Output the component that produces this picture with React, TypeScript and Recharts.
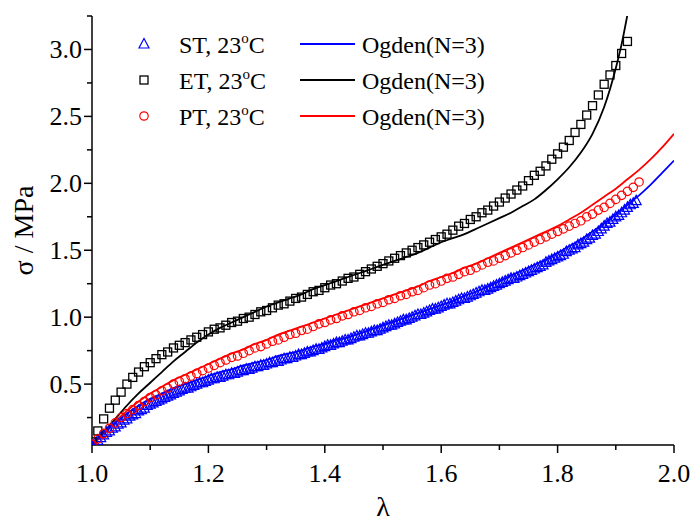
import React from 'react';
import { ComposedChart, Line, Scatter, XAxis, YAxis, Legend } from 'recharts';

const FONT = "'Liberation Serif', 'Times New Roman', serif";

const xTicks = [1.0, 1.1, 1.2, 1.3, 1.4, 1.5, 1.6, 1.7, 1.8, 1.9, 2.0];
const yTicks = [0.25, 0.5, 0.75, 1.0, 1.25, 1.5, 1.75, 2.0, 2.25, 2.5, 2.75, 3.0, 3.25];

// measured points [lambda, sigma]
const stPoints: [number, number][] = [
  [1.000, 0.04], [1.005, 0.06], [1.010, 0.08], [1.015, 0.10], [1.020, 0.12], [1.025, 0.14], [1.030, 0.15], [1.035, 0.17],
  [1.040, 0.18], [1.045, 0.20], [1.050, 0.21], [1.055, 0.23], [1.060, 0.24], [1.065, 0.26], [1.070, 0.27], [1.075, 0.28],
  [1.080, 0.30], [1.085, 0.31], [1.090, 0.32], [1.095, 0.34], [1.100, 0.35], [1.105, 0.36], [1.110, 0.37], [1.115, 0.38],
  [1.120, 0.39], [1.125, 0.40], [1.130, 0.41], [1.135, 0.42], [1.140, 0.43], [1.145, 0.44], [1.150, 0.45], [1.155, 0.46],
  [1.160, 0.47], [1.165, 0.47], [1.170, 0.48], [1.175, 0.49], [1.180, 0.50], [1.185, 0.51], [1.190, 0.51], [1.195, 0.52],
  [1.200, 0.53], [1.205, 0.54], [1.210, 0.54], [1.215, 0.55], [1.220, 0.55], [1.225, 0.56], [1.230, 0.57], [1.235, 0.57],
  [1.240, 0.58], [1.245, 0.58], [1.250, 0.59], [1.255, 0.60], [1.260, 0.60], [1.265, 0.61], [1.270, 0.61], [1.275, 0.62],
  [1.280, 0.63], [1.285, 0.63], [1.290, 0.64], [1.295, 0.64], [1.300, 0.65], [1.305, 0.66], [1.310, 0.66], [1.315, 0.67],
  [1.320, 0.67], [1.325, 0.68], [1.330, 0.69], [1.335, 0.69], [1.340, 0.70], [1.345, 0.70], [1.350, 0.71], [1.355, 0.72],
  [1.360, 0.72], [1.365, 0.73], [1.370, 0.74], [1.375, 0.74], [1.380, 0.75], [1.385, 0.76], [1.390, 0.76], [1.395, 0.77],
  [1.400, 0.78], [1.405, 0.79], [1.410, 0.79], [1.415, 0.80], [1.420, 0.81], [1.425, 0.81], [1.430, 0.82], [1.435, 0.83],
  [1.440, 0.83], [1.445, 0.84], [1.450, 0.85], [1.455, 0.86], [1.460, 0.86], [1.465, 0.87], [1.470, 0.88], [1.475, 0.88],
  [1.480, 0.89], [1.485, 0.90], [1.490, 0.90], [1.495, 0.91], [1.500, 0.92], [1.505, 0.93], [1.510, 0.94], [1.515, 0.94],
  [1.520, 0.95], [1.525, 0.96], [1.530, 0.97], [1.535, 0.98], [1.540, 0.98], [1.545, 0.99], [1.550, 1.00], [1.555, 1.01],
  [1.560, 1.02], [1.565, 1.02], [1.570, 1.03], [1.575, 1.04], [1.580, 1.05], [1.585, 1.06], [1.590, 1.06], [1.595, 1.07],
  [1.600, 1.08], [1.605, 1.09], [1.610, 1.10], [1.615, 1.10], [1.620, 1.11], [1.625, 1.12], [1.630, 1.13], [1.635, 1.14],
  [1.640, 1.14], [1.645, 1.15], [1.650, 1.16], [1.655, 1.17], [1.660, 1.18], [1.665, 1.19], [1.670, 1.20], [1.675, 1.20],
  [1.680, 1.21], [1.685, 1.22], [1.690, 1.23], [1.695, 1.24], [1.700, 1.25], [1.705, 1.26], [1.710, 1.27], [1.715, 1.28],
  [1.720, 1.29], [1.725, 1.29], [1.730, 1.30], [1.735, 1.31], [1.740, 1.32], [1.745, 1.33], [1.750, 1.34], [1.755, 1.35],
  [1.760, 1.36], [1.765, 1.37], [1.770, 1.38], [1.775, 1.39], [1.780, 1.41], [1.785, 1.42], [1.790, 1.43], [1.795, 1.44],
  [1.800, 1.45], [1.805, 1.46], [1.810, 1.47], [1.815, 1.49], [1.820, 1.50], [1.825, 1.51], [1.830, 1.52], [1.835, 1.54],
  [1.840, 1.55], [1.845, 1.56], [1.850, 1.58], [1.855, 1.59], [1.860, 1.61], [1.865, 1.62], [1.870, 1.64], [1.875, 1.66],
  [1.880, 1.68], [1.885, 1.70], [1.890, 1.71], [1.895, 1.73], [1.900, 1.75], [1.905, 1.76], [1.910, 1.78], [1.915, 1.80],
  [1.920, 1.82], [1.925, 1.84], [1.930, 1.85], [1.935, 1.87],
];

const etPoints: [number, number][] = [
  [1.00, 0.07], [1.01, 0.15], [1.02, 0.24], [1.03, 0.32], [1.04, 0.38], [1.05, 0.44], [1.06, 0.50], [1.07, 0.55],
  [1.08, 0.59], [1.09, 0.63], [1.10, 0.66], [1.11, 0.69], [1.12, 0.72], [1.13, 0.74], [1.14, 0.77], [1.15, 0.79],
  [1.16, 0.81], [1.17, 0.83], [1.18, 0.85], [1.19, 0.87], [1.20, 0.89], [1.21, 0.91], [1.22, 0.92], [1.23, 0.94],
  [1.24, 0.96], [1.25, 0.97], [1.26, 0.99], [1.27, 1.00], [1.28, 1.02], [1.29, 1.04], [1.30, 1.05], [1.31, 1.07],
  [1.32, 1.09], [1.33, 1.10], [1.34, 1.12], [1.35, 1.14], [1.36, 1.15], [1.37, 1.17], [1.38, 1.19], [1.39, 1.20],
  [1.40, 1.22], [1.41, 1.24], [1.42, 1.25], [1.43, 1.27], [1.44, 1.29], [1.45, 1.30], [1.46, 1.32], [1.47, 1.34],
  [1.48, 1.36], [1.49, 1.38], [1.50, 1.40], [1.51, 1.42], [1.52, 1.44], [1.53, 1.46], [1.54, 1.48], [1.55, 1.50],
  [1.56, 1.52], [1.57, 1.54], [1.58, 1.56], [1.59, 1.58], [1.60, 1.60], [1.61, 1.62], [1.62, 1.65], [1.63, 1.68],
  [1.64, 1.70], [1.65, 1.73], [1.66, 1.75], [1.67, 1.78], [1.68, 1.80], [1.69, 1.83], [1.70, 1.86], [1.71, 1.89],
  [1.72, 1.92], [1.73, 1.95], [1.74, 1.98], [1.75, 2.02], [1.76, 2.06], [1.77, 2.09], [1.78, 2.13], [1.79, 2.18],
  [1.80, 2.22], [1.81, 2.27], [1.82, 2.32], [1.83, 2.38], [1.84, 2.44], [1.85, 2.51], [1.86, 2.58], [1.87, 2.66],
  [1.88, 2.74], [1.89, 2.81], [1.90, 2.88], [1.91, 2.97], [1.92, 3.06],
];

const ptPoints: [number, number][] = [
  [1.00, 0.05], [1.01, 0.09], [1.02, 0.13], [1.03, 0.17], [1.04, 0.21], [1.05, 0.25], [1.06, 0.28], [1.07, 0.31],
  [1.08, 0.34], [1.09, 0.37], [1.10, 0.40], [1.11, 0.42], [1.12, 0.45], [1.13, 0.47], [1.14, 0.50], [1.15, 0.52],
  [1.16, 0.54], [1.17, 0.56], [1.18, 0.58], [1.19, 0.60], [1.20, 0.62], [1.21, 0.64], [1.22, 0.66], [1.23, 0.68],
  [1.24, 0.70], [1.25, 0.71], [1.26, 0.73], [1.27, 0.75], [1.28, 0.77], [1.29, 0.78], [1.30, 0.80], [1.31, 0.82],
  [1.32, 0.83], [1.33, 0.85], [1.34, 0.87], [1.35, 0.88], [1.36, 0.90], [1.37, 0.91], [1.38, 0.93], [1.39, 0.95],
  [1.40, 0.96], [1.41, 0.98], [1.42, 0.99], [1.43, 1.01], [1.44, 1.02], [1.45, 1.04], [1.46, 1.05], [1.47, 1.07],
  [1.48, 1.08], [1.49, 1.10], [1.50, 1.11], [1.51, 1.13], [1.52, 1.14], [1.53, 1.16], [1.54, 1.17], [1.55, 1.19],
  [1.56, 1.20], [1.57, 1.22], [1.58, 1.24], [1.59, 1.25], [1.60, 1.27], [1.61, 1.29], [1.62, 1.30], [1.63, 1.32],
  [1.64, 1.34], [1.65, 1.35], [1.66, 1.37], [1.67, 1.39], [1.68, 1.41], [1.69, 1.42], [1.70, 1.44], [1.71, 1.46],
  [1.72, 1.48], [1.73, 1.50], [1.74, 1.52], [1.75, 1.54], [1.76, 1.56], [1.77, 1.58], [1.78, 1.60], [1.79, 1.62],
  [1.80, 1.64], [1.81, 1.66], [1.82, 1.68], [1.83, 1.70], [1.84, 1.72], [1.85, 1.75], [1.86, 1.77], [1.87, 1.80],
  [1.88, 1.82], [1.89, 1.85], [1.90, 1.88], [1.91, 1.91], [1.92, 1.94], [1.93, 1.97], [1.94, 2.01],
];

// Ogden (N=3) fits
const stFit: [number, number][] = [
  [1.00, 0.04], [1.02, 0.13], [1.04, 0.21], [1.06, 0.28], [1.08, 0.34], [1.10, 0.39], [1.12, 0.43], [1.14, 0.47],
  [1.16, 0.50], [1.18, 0.53], [1.20, 0.56], [1.22, 0.59], [1.24, 0.61], [1.26, 0.64], [1.28, 0.66], [1.30, 0.68],
  [1.32, 0.71], [1.34, 0.73], [1.36, 0.75], [1.38, 0.78], [1.40, 0.80], [1.42, 0.83], [1.44, 0.85], [1.46, 0.88],
  [1.48, 0.91], [1.50, 0.94], [1.52, 0.97], [1.54, 1.00], [1.56, 1.03], [1.58, 1.06], [1.60, 1.09], [1.62, 1.12],
  [1.64, 1.16], [1.66, 1.19], [1.68, 1.23], [1.70, 1.27], [1.72, 1.31], [1.74, 1.35], [1.76, 1.39], [1.78, 1.43],
  [1.80, 1.48], [1.82, 1.53], [1.84, 1.58], [1.86, 1.64], [1.88, 1.70], [1.90, 1.77], [1.92, 1.84], [1.94, 1.91],
  [1.96, 1.99], [1.98, 2.08], [2.00, 2.17],
];

const etFit: [number, number][] = [
  [1.00, 0.05], [1.02, 0.14], [1.04, 0.24], [1.06, 0.34], [1.08, 0.43], [1.10, 0.51], [1.12, 0.59], [1.14, 0.67],
  [1.16, 0.74], [1.18, 0.81], [1.20, 0.87], [1.22, 0.92], [1.24, 0.96], [1.26, 1.00], [1.28, 1.04], [1.30, 1.08],
  [1.32, 1.11], [1.34, 1.14], [1.36, 1.17], [1.38, 1.21], [1.40, 1.24], [1.42, 1.27], [1.44, 1.30], [1.46, 1.33],
  [1.48, 1.36], [1.50, 1.39], [1.52, 1.42], [1.54, 1.45], [1.56, 1.48], [1.58, 1.52], [1.60, 1.56], [1.62, 1.59],
  [1.64, 1.62], [1.66, 1.66], [1.68, 1.70], [1.70, 1.74], [1.72, 1.78], [1.74, 1.83], [1.76, 1.88], [1.78, 1.95],
  [1.80, 2.03], [1.82, 2.12], [1.84, 2.23], [1.86, 2.37], [1.88, 2.57], [1.90, 2.86], [1.91, 3.04], [1.92, 3.26],
];

const ptFit: [number, number][] = [
  [1.00, 0.04], [1.02, 0.13], [1.04, 0.22], [1.06, 0.30], [1.08, 0.37], [1.10, 0.43], [1.12, 0.48], [1.14, 0.53],
  [1.16, 0.57], [1.18, 0.61], [1.20, 0.65], [1.22, 0.69], [1.24, 0.73], [1.26, 0.76], [1.28, 0.80], [1.30, 0.83],
  [1.32, 0.87], [1.34, 0.90], [1.36, 0.93], [1.38, 0.96], [1.40, 0.99], [1.42, 1.02], [1.44, 1.05], [1.46, 1.08],
  [1.48, 1.11], [1.50, 1.14], [1.52, 1.17], [1.54, 1.20], [1.56, 1.23], [1.58, 1.27], [1.60, 1.30], [1.62, 1.33],
  [1.64, 1.37], [1.66, 1.40], [1.68, 1.44], [1.70, 1.48], [1.72, 1.52], [1.74, 1.56], [1.76, 1.60], [1.78, 1.64],
  [1.80, 1.68], [1.82, 1.73], [1.84, 1.78], [1.86, 1.84], [1.88, 1.90], [1.90, 1.96], [1.92, 2.03], [1.94, 2.10],
  [1.96, 2.18], [1.98, 2.27], [2.00, 2.37],
];

const seriesNames = ['ST', 'ET', 'PT'];
const seriesColors = ['#0000ff', '#000000', '#ff0000'];
const markerKinds = ['triangle', 'square', 'circle'];
const fitLabel = 'Ogden(N=3)';

const rows = (pts: [number, number][]) => pts.map(([x, y]) => ({ x, y }));

const axisStyle = { stroke: '#000', strokeWidth: 1.5 };

const isMajorX = (v: number) => Math.abs(v * 5 - Math.round(v * 5)) < 1e-6;
const isMajorY = (v: number) => Math.abs(v * 2 - Math.round(v * 2)) < 1e-6;

const Marker = ({ kind, cx, cy, color }: { kind: string; cx: number; cy: number; color: string }) => {
  if (kind === 'triangle') {
    return (
      <polygon
        points={`${cx},${cy - 5.5} ${cx - 5},${cy + 4} ${cx + 5},${cy + 4}`}
        fill="none"
        stroke={color}
        strokeWidth={1.2}
      />
    );
  }
  if (kind === 'square') {
    return <rect x={cx - 4} y={cy - 4} width={8} height={8} fill="none" stroke={color} strokeWidth={1.3} />;
  }
  return <circle cx={cx} cy={cy} r={4.2} fill="none" stroke={color} strokeWidth={1.2} />;
};

const BottomTick = (props: any) => {
  const { x, y, payload } = props;
  const major = isMajorX(payload.value);
  return (
    <g>
      <line x1={x} y1={y} x2={x} y2={y + (major ? 8 : 5)} stroke="#000" strokeWidth={1.5} />
      {major && (
        <text x={x} y={y + 37} textAnchor="middle" fontSize={26} fontFamily={FONT} fill="#000">
          {payload.value.toFixed(1)}
        </text>
      )}
    </g>
  );
};

const TopTick = (props: any) => {
  const { x, y, payload } = props;
  const major = isMajorX(payload.value);
  return <line x1={x} y1={y} x2={x} y2={y + (major ? 8 : 5)} stroke="#000" strokeWidth={1.5} />;
};

const LeftTick = (props: any) => {
  const { x, y, payload } = props;
  const major = isMajorY(payload.value);
  return (
    <g>
      <line x1={x} y1={y} x2={x - (major ? 8 : 5)} y2={y} stroke="#000" strokeWidth={1.5} />
      {major && (
        <text x={x - 10} y={y + 8.5} textAnchor="end" fontSize={26} fontFamily={FONT} fill="#000">
          {payload.value.toFixed(1)}
        </text>
      )}
    </g>
  );
};

const RightTick = (props: any) => {
  const { x, y, payload } = props;
  const major = isMajorY(payload.value);
  return <line x1={x} y1={y} x2={x - (major ? 8 : 5)} y2={y} stroke="#000" strokeWidth={1.5} />;
};

const XTitle = (props: any) => {
  const vb = props.viewBox ?? { x: 92, y: 445, width: 582, height: 78 };
  return (
    <text x={vb.x + vb.width / 2} y={vb.y + vb.height - 7} textAnchor="middle" fontSize={28} fontFamily={FONT} fill="#000">
      λ
    </text>
  );
};

const YTitle = (props: any) => {
  const vb = props.viewBox ?? { x: 0, y: 16, width: 92, height: 429 };
  const cx = vb.x + 33;
  const cy = vb.y + vb.height / 2;
  return (
    <text x={cx} y={cy} transform={`rotate(-90 ${cx} ${cy})`} textAnchor="middle" fontSize={28} fontFamily={FONT} fill="#000">
      σ / MPa
    </text>
  );
};

const LegendBox = () => (
  <svg width={692} height={140} style={{ display: 'block', overflow: 'visible' }}>
    {seriesNames.map((name, i) => {
      const cy = 44 + i * 36;
      const color = seriesColors[i];
      return (
        <g key={name}>
          <Marker kind={markerKinds[i]} cx={144} cy={cy} color={color} />
          <text x={179} y={cy + 9} fontSize={24} fontFamily={FONT} fill="#000">
            {name}, 23<tspan dy={-10} fontSize={15}>o</tspan>
            <tspan dy={10}>C</tspan>
          </text>
          <line x1={300} y1={cy} x2={355} y2={cy} stroke={color} strokeWidth={2} />
          <text x={362} y={cy + 9} fontSize={24} fontFamily={FONT} fill="#000">
            {fitLabel}
          </text>
        </g>
      );
    })}
  </svg>
);

const pointSets = [stPoints, etPoints, ptPoints];
const fitSets = [stFit, etFit, ptFit];

export default function App() {
  return (
    <div style={{ position: 'absolute', left: 0, top: 0, background: '#fff' }}>
      <ComposedChart width={692} height={523} margin={{ top: 16, right: 18, bottom: 0, left: 0 }}>
        <XAxis
          xAxisId="b"
          type="number"
          dataKey="x"
          domain={[1, 2]}
          ticks={xTicks}
          interval={0}
          height={78}
          tickSize={0}
          tickMargin={0}
          tickLine={false}
          axisLine={axisStyle}
          tick={<BottomTick />}
          label={<XTitle />}
          allowDataOverflow
        />
        <XAxis
          xAxisId="t"
          orientation="top"
          type="number"
          dataKey="x"
          domain={[1, 2]}
          ticks={xTicks}
          interval={0}
          height={0}
          tickSize={0}
          tickMargin={0}
          tickLine={false}
          axisLine={axisStyle}
          tick={<TopTick />}
          allowDataOverflow
        />
        <YAxis
          yAxisId="l"
          type="number"
          dataKey="y"
          domain={[0.045, 3.25]}
          ticks={yTicks}
          interval={0}
          width={92}
          tickSize={0}
          tickMargin={0}
          tickLine={false}
          axisLine={axisStyle}
          tick={<LeftTick />}
          label={<YTitle />}
          allowDataOverflow
        />
        <YAxis
          yAxisId="r"
          orientation="right"
          type="number"
          dataKey="y"
          domain={[0.045, 3.25]}
          ticks={yTicks}
          interval={0}
          width={0}
          tickSize={0}
          tickMargin={0}
          tickLine={false}
          axisLine={axisStyle}
          tick={<RightTick />}
          allowDataOverflow
        />
        {pointSets.map((pts, i) => (
          <Scatter
            key={`pts-${i}`}
            xAxisId="b"
            yAxisId="l"
            data={rows(pts)}
            dataKey="y"
            isAnimationActive={false}
            shape={(p: any) => <Marker kind={markerKinds[i]} cx={p.cx} cy={p.cy} color={seriesColors[i]} />}
          />
        ))}
        {fitSets.map((pts, i) => (
          <Line
            key={`fit-${i}`}
            xAxisId="b"
            yAxisId="l"
            data={rows(pts)}
            dataKey="y"
            type="monotone"
            stroke={seriesColors[i]}
            strokeWidth={1.8}
            dot={false}
            activeDot={false}
            isAnimationActive={false}
          />
        ))}
        <Legend
          layout="horizontal"
          verticalAlign="middle"
          align="center"
          wrapperStyle={{ top: 0, left: 0, width: 692, height: 140, margin: 0, pointerEvents: 'none' }}
          content={() => <LegendBox />}
        />
      </ComposedChart>
    </div>
  );
}
